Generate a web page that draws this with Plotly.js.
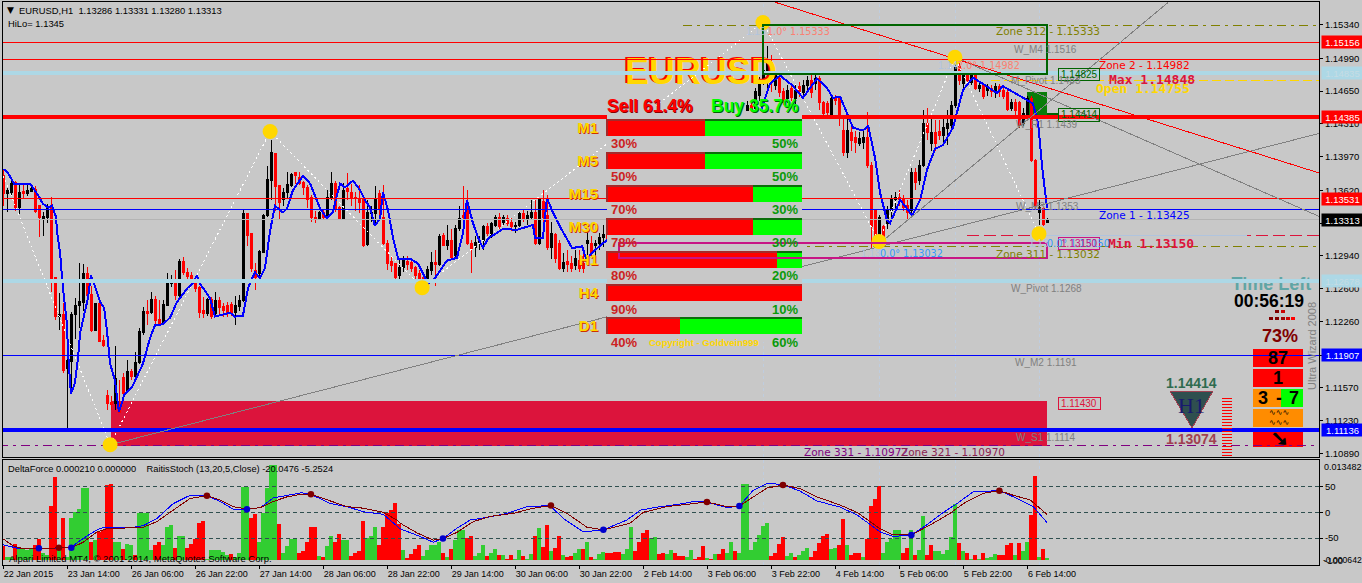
<!DOCTYPE html>
<html><head><meta charset="utf-8">
<script src="https://cdn.plot.ly/plotly-3.0.1.min.js"></script>
<style>html,body{margin:0;padding:0;background:#C8C8C8;overflow:hidden}#c{width:1362px;height:583px}
path.js-line,.boxlayer path,.barlayer path,.shapelayer path{shape-rendering:crispEdges}</style>
</head><body><div id="c"></div>
<script>
// prices are kept in pips above 1.1000
const barOpen=[377,359,360,370,344,361,359,361,363,346,333,334,346,272,231,233,177,184,233,242,246,276,254,217,245,206,149,142,141,141,168,154,174,169,183,215,236,235,249,228,224,243,265,270,253,288,277,274,269,261,237,234,249,234,248,241,243,244,235,241,248,338,317,279,276,298,336,372,400,367,352,360,367,380,375,370,365,355,334,333,339,336,355,369,344,333,364,360,355,353,352,306,338,338,359,334,307,288,286,274,282,288,287,282,276,272,269,279,287,285,315,305,310,294,322,336,346,307,303,307,310,324,315,326,334,329,333,329,324,325,338,333,334,339,307,350,336,303,316,307,281,288,286,284,289,286,307,307,305,307,313,316,310,326,314,310,318,322,346,339,333,326,318,339,336,343,335,344,337,346,339,346,338,347,345,335,344,338,333,333,346,336,346,335,336,336,439,450,447,460,474,484,495,471,478,464,457,468,457,470,463,471,476,473,478,453,452,440,458,457,424,401,422,417,411,412,417,388,341,313,324,328,341,352,355,354,346,341,380,372,388,431,411,422,423,419,426,429,450,490,473,481,474,481,468,471,466,468,463,470,466,463,447,453,453,431,438,457,393,339,343,328.6];
const barHigh=[383,364,372,372,367,369,370,369,366,346,339,348,355,272,255,245,197,236,250,287,286,282,263,245,250,212,155,149,200,165,173,186,177,194,219,241,248,257,252,248,248,276,274,279,291,293,281,277,273,263,251,250,251,257,251,245,246,246,252,253,343,338,318,287,300,337,387,414,401,367,364,381,380,381,381,372,367,357,341,341,343,362,381,372,346,370,380,369,360,367,354,352,346,366,362,367,310,294,287,291,294,294,291,284,279,274,284,298,300,317,318,326,322,326,346,366,362,310,315,315,326,328,329,336,338,336,336,333,329,340,343,341,352,352,354,362,357,329,318,310,297,300,294,300,300,302,320,315,310,318,326,320,329,329,318,322,331,352,348,341,346,329,343,346,348,349,348,350,347,349,348,350,347,350,348,346,348,345,343,348,348,349,349,352,352,442,455,455,468,480,536,512,502,484,482,468,471,472,472,474,476,481,482,482,481,455,455,460,461,459,437,437,429,424,422,424,443,391,343,336,326,346,357,360,362,357,352,385,385,393,445,447,440,435,435,440,445,455,500,497,486,484,486,483,474,473,472,471,473,472,469,466,457,457,455,447,460,460,395,352,345,333.1];
const barLow=[346,339,357,341,337,354,356,360,338,314,315,328,256,227,217,172,115,154,208,219,237,243,215,217,205,199,134,134,134,131,150,152,165,167,182,212,222,234,222,222,222,242,262,248,251,274,269,265,257,230,230,232,229,231,232,231,231,232,222,237,246,304,277,259,271,297,334,352,341,331,346,354,365,369,367,357,344,329,328,331,332,334,352,339,331,331,352,346,341,338,303,304,329,326,336,305,279,277,269,269,277,279,277,269,263,261,263,274,263,284,304,300,291,292,320,326,305,276,293,300,300,315,313,324,322,326,325,320,318,324,329,326,331,305,305,312,300,291,287,279,277,277,277,279,277,276,287,294,287,300,303,305,300,308,305,307,314,318,333,325,318,300,315,327,333,331,332,333,333,335,335,334,334,333,331,331,332,330,329,330,330,312,332,333,333,333,429,435,445,455,471,466,464,466,459,451,453,455,452,459,459,466,458,466,445,439,439,438,451,429,398,396,403,401,408,405,385,302,305,310,310,322,329,343,346,341,331,338,362,367,386,414,403,403,414,412,409,427,447,471,466,471,471,466,464,457,460,459,458,459,457,444,444,440,427,429,437,391,343,326,325,328];
const barClose=[359,362,369,344,360,359,362,364,340,334,335,344,271,231,233,175,185,233,243,247,276,253,217,245,205,201,141,140,167,132,151,174,169,183,216,236,234,249,227,224,244,265,269,253,288,277,273,270,260,235,234,249,231,248,240,237,235,235,242,248,338,315,281,272,299,336,373,401,366,349,360,368,378,377,369,365,352,334,333,339,334,355,369,343,333,362,361,355,353,349,305,339,339,352,343,307,286,284,272,282,289,285,281,274,270,269,280,287,285,314,305,310,292,322,333,334,307,302,308,310,324,317,328,334,324,334,328,324,326,338,333,336,339,307,352,334,303,317,291,281,287,285,281,291,281,281,310,297,307,313,316,310,326,312,310,320,326,346,336,329,322,318,336,331,343,335,346,337,343,339,345,338,344,337,335,343,336,333,341,341,333,346,335,346,348,440,450,443,464,476,486,497,478,481,463,453,466,458,466,464,471,476,463,478,453,442,443,457,455,438,401,424,414,412,416,417,388,324,313,334,313,341,352,355,352,344,339,380,370,388,431,422,422,411,419,427,431,450,490,476,483,476,483,468,471,459,469,464,470,464,459,446,453,445,429,442,457,393,346,344,327,331.3];
const maBars=[0,1,2,2.7,6.7,7.4,8.7,9.9,11.2,12.2,13.2,13.4,14.2,14.9,15.9,16.2,16.9,17.9,18.7,19.2,20.4,21.2,21.9,22.9,24.2,25.2,25.9,26.7,27.9,28.9,29.7,30.2,32.2,34.9,36.7,37.9,39.9,41.7,43.4,45.9,47.4,48.4,49.2,51.7,52.9,56.7,57.9,59.9,61.2,62.9,64.2,65.4,66.7,67.9,69.9,70.9,72.4,74.9,76.7,79.2,80.9,82.4,83.4,84.2,85.4,87.4,89.2,90.4,91.7,92.9,94.2,94.9,96.2,97.4,98.7,101.7,103.7,105.4,106.2,107.9,110.9,113.4,114.9,115.9,117.4,118.7,119.9,121.2,123.4,124.9,128.4,132.4,132.9,134.9,135.9,137.4,139.2,140.9,142.2,144.7,145.7,147.4,149.9,152.2,153.7,157.4,159.2,162.4,168.7,170.9,174.2,177.4,179.9,184.2,185.9,186.4,187.4,189.2,191.7,194.2,197.2,199.9,203.4,205.9,207.4,209.2,212.4,214.9,216.2,217.9,219.2,220.9,221.7,224.2,225.9,227.2,229.2,230.9,232.9,234.9,237.4,239.9,242.4,244.2,248.4,249.9,254.2,257.4,258.7,259.7,260.9];
const maVals=[384,381,374,369,369,365,357,348,344,346,334,320,297,261,224,193,151,162,189,214,237,251,274,263,246,240,217,182,165,132,142,150,158,182,209,222,223,230,246,260,266,274,265,250,231,235,231,232,261,277,271,281,320,346,339,343,362,377,369,343,333,339,357,369,365,372,362,352,344,325,333,360,341,313,291,291,286,272,265,271,289,292,317,352,328,313,302,312,318,322,321,326,313,313,354,339,324,312,302,304,291,298,307,314,310,338,334,313,338,344,344,334,344,336,348,383,414,442,473,481,471,458,478,468,458,459,427,424,429,396,359,331,328,352,343,336,352,383,405,409,427,466,479,474,463,470,460,452,431,386,344];
const zigBars=[0,26.7,66.7,104.7,189.9,218.9,237.9,258.9];
const zigVals=[377,98,423,261,536,309,500,317];
const deltaForce=[-19,4,4,-22,15,15,13,17,-21,-28,10,7,-73,-111,16,-56,4,56,64,69,97,97,-24,27,-38,-40,-101,-102,25,25,-15,22,21,-7,63,63,63,13,-21,-25,20,44,47,-16,33,33,-16,-22,-28,-50,-52,2,14,14,14,11,7,-8,4,10,98,98,-56,-62,25,63,97,127,127,-49,10,19,28,28,-10,-12,-24,-44,-45,5,-4,19,33,-25,-35,27,27,-5,-10,-12,-53,30,32,45,-20,-45,-63,-67,-77,-49,13,-3,-8,-15,-21,5,13,20,20,25,-10,4,-15,27,40,40,-30,-33,5,10,21,-5,10,15,-7,7,-2,-7,1,13,-5,2,8,-32,43,-18,-47,12,-16,-33,7,-4,-6,9,15,-15,25,-4,1,8,11,-9,-10,-11,-11,8,15,44,-12,-24,-37,-40,30,31,-8,-10,8,13,-10,-5,-5,4,13,-2,-4,-19,3,-2,8,-8,-15,10,25,-12,10,102,102,13,24,34,46,50,-6,-9,-22,-31,5,10,-4,7,12,17,-4,-12,-23,-33,-35,15,16,-20,-55,20,-7,-9,-9,4,-28,-73,-82,-100,10,25,29,40,40,-10,-17,40,-7,14,59,-7,-21,12,12,8,13,31,75,-23,12,-9,1,-7,1,-9,3,4,8,-7,-7,-21,-23,7,-23,12,25,-61,-113,4,-15,3];
const stochMainBars=[0,1.7,4.2,8.8,13.8,17,19.2,21.7,24.2,25.9,32.5,35,38.4,42.5,46.7,50.9,54.2,57.5,60.9,64.2,67.5,70.9,74.6,76.9,81.7,85.9,90,95,98.4,99.2,104.2,107.5,109.9,113.4,116.7,120.9,125.9,130.9,136.7,140,145,150,155.9,159.2,163.4,168.4,173.4,175.9,180.9,184,187.5,190.9,194.9,199.2,203.4,209.2,213.4,219.2,222.5,227,230.9,235,238.4,242.5,249,253.4,257.5,260.9];
const stochMain=[-63,-66,-71,-71,-69,-68,-55,-42,-31,-29,-29,-26,-12,17,33,32,21,6,6,9,28,33,38,35,17,11,1,-4,-28,-32,-47,-58,-51,-31,-15,-10,-2,11,13,-12,-38,-34,-15,4,10,15,22,20,9,12,43,56,54,41,22,10,-5,-38,-47,-44,-24,0,17,40,42,27,11,-20];
const stochSigBars=[0,2.5,5,8.8,13.8,17,20,23.4,25.9,32.5,35,38.4,42.5,46.7,50.9,54.2,57.5,60.9,64.2,67.5,70.9,74.6,76.9,81.7,85.9,90,95,98.4,99.2,103.4,107.5,109.9,113.4,117.5,121.7,127.5,132.5,136.9,140.9,145.9,150,156.7,160,165.9,170.9,175.9,180.9,184,187.5,190.9,194.9,199.2,203.4,209.2,213.4,219.2,222.5,227,232.5,236.7,240,245,249,252.5,256.7,260.9];
const stochSig=[-52,-65,-71,-71,-69,-69,-58,-38,-32,-29,-29,-18,4,27,32,24,11,6,9,21,30,35,35,22,11,8,0,-15,-21,-40,-54,-51,-39,-18,-8,-2,8,13,-2,-29,-34,-21,0,11,16,20,11,12,30,47,53,46,30,14,0,-32,-44,-44,-21,-2,17,37,42,33,24,-4];
const blueDotBars=[8.9,17,60.9,109.9,150,184,227];
const blueDotVals=[-70,-69,6,-51,-34,12,-44];
const redDotBars=[13.9,50.9,76.9,136.9,175.9,194.9,249];
const redDotVals=[-69,32,35,13,20,53,42];
const tickBars=[0,16,32,48,64,80,96,112,128,144,160,176,192,208,224,240,256];
const tickLabels=['22 Jan 2015','23 Jan 14:00','26 Jan 06:00','26 Jan 22:00','27 Jan 14:00','28 Jan 06:00','28 Jan 22:00','29 Jan 14:00','30 Jan 06:00','30 Jan 22:00','2 Feb 14:00','3 Feb 06:00','3 Feb 22:00','4 Feb 14:00','5 Feb 06:00','5 Feb 22:00','6 Feb 14:00'];
const priceTicks=[1.1534,1.1499,1.1465,1.1431,1.1397,1.1362,1.1328,1.1294,1.126,1.1226,1.1191,1.1157,1.1123,1.1089];
const separatorBars=[190,219,238,259];
const timeframes=['M1','M5','M15','M30','H1','H4','D1'];
const sellShare=[50,50,75,75,87,100,37.5];
const buyShare=[50,50,25,25,13,0,62.5];
const sellLabels=['30%','50%','70%','78%','80%','90%','40%'];
const buyLabels=['50%','50%','30%','30%','20%','10%','60%'];
// price levels
const levelPrices=[1.1097,1.13032,1.15333,1.1315,1.1315,1.14755,1.15156,1.14982,1.13531,1.13425,1.13313,1.11907,1.14835,1.14385,1.12678,1.11136];
const levelStarts=[0,170,170,241,259,247,0,0,0,0,0,0,0,0,0,0];
const levelEnds=[329,329,329,329,311,329,329,329,329,329,329,329,329,329,329,329];
const levelColors=['#800080','#808000','#808000','#DC143C','#B0C4DE','#FFD700','#FF0000','#FF0000','#FF0000','#0000FF','#B4B4B4','#0000FF','#ADD8E6','#FF0000','#ADD8E6','#0000FF'];
const levelWidths=[1,1,1,1,1,1,1,1,1,1,1,1,4,4,4,4];
const levelDashes=['9px,5px,3px,5px','9px,5px,3px,5px','9px,5px,3px,5px','12px,5px','solid','9px,4px','solid','solid','solid','solid','solid','solid','solid','solid','solid','solid'];
const boxPrices=[1.15156,1.14835,1.14385,1.13531,1.13313,1.12678,1.11907,1.11136];
const boxFills=['#FF0000','#ADD8E6','#FF0000','#FF0000','#000000','#ADD8E6','#0000FF','#0000FF'];
const boxInks=['#FFFFFF','#C6DCE4','#FFFFFF','#FFFFFF','#FFFFFF','#C6DCE4','#FFFFFF','#FFFFFF'];

const price=p=>1.1+p/10000;
const F='Liberation Sans';
const pxX=x=>(x-3)/1316, pxY=y=>(565-y)/564;
const barEnd=328.9;

const traces=[];
traces.push({type:'scatter',mode:'text',x:[174.4],y:[price(482)],text:['EURUSD'],textposition:'middle center',
  textfont:{family:F,size:36,weight:700,color:'#FFD700',shadow:'-2px -1px 0 #FF0000'},xaxis:'x',yaxis:'y',hoverinfo:'skip'});
traces.push({type:'scatter',mode:'text',x:[317.0],y:[price(263)],text:['Time Left'],textposition:'middle center',
  textfont:{family:F,size:18,weight:700,color:'#5FA5A5'},xaxis:'x',yaxis:'y',hoverinfo:'skip'});
traces.push({type:'candlestick',x:barOpen.map((_,i)=>i),open:barOpen.map(price),high:barHigh.map(price),low:barLow.map(price),close:barClose.map(price),
  xaxis:'x',yaxis:'y',whiskerwidth:0,hoverinfo:'skip',
  increasing:{line:{color:'#000000',width:1},fillcolor:'#000000'},
  decreasing:{line:{color:'#FF0000',width:1},fillcolor:'#FF0000'}});
traces.push({type:'scatter',mode:'lines',x:zigBars,y:zigVals.map(price),line:{color:'#FFFFFF',width:1,dash:'2px,3px'},xaxis:'x',yaxis:'y',hoverinfo:'skip'});
traces.push({type:'scatter',mode:'lines',x:maBars,y:maVals.map(price),line:{color:'#0000FF',width:2},xaxis:'x',yaxis:'y',hoverinfo:'skip'});
levelPrices.forEach((p,i)=>traces.push({type:'scatter',mode:'lines',x:[levelStarts[i]===0?-1:levelStarts[i],levelEnds[i]===329?barEnd:levelEnds[i]],y:[p,p],
  line:{color:levelColors[i],width:levelWidths[i],dash:levelDashes[i]},xaxis:'x',yaxis:'y',hoverinfo:'skip'}));
const trendBars=[[26.7,328.9],[220,291.2],[237.9,328.9],[193,328.9]];
const trendVals=[[98,421],[310,557],[500,335],[557,380]];
const trendColors=['#808080','#808080','#808080','#FF0000'];
trendBars.forEach((b,i)=>traces.push({type:'scatter',mode:'lines',x:b,y:trendVals[i].map(price),line:{color:trendColors[i],width:1},xaxis:'x',yaxis:'y',hoverinfo:'skip'}));
traces.push({type:'scatter',mode:'markers',x:zigBars.slice(1),y:zigVals.slice(1).map(price),marker:{size:15,color:'#FFD700'},xaxis:'x',yaxis:'y',hoverinfo:'skip'});
traces.push({type:'bar',x:deltaForce.map((_,i)=>i),y:deltaForce.map(v=>Math.abs(v)/10000),width:1,
  marker:{color:deltaForce.map(v=>v>0?'#32CD32':'#FF0000'),line:{width:0}},xaxis:'x',yaxis:'y2',hoverinfo:'skip'});
[50,0,-50].forEach(v=>traces.push({type:'scatter',mode:'lines',x:[-1,barEnd],y:[v,v],line:{color:'#2F4F4F',width:1,dash:'4px,3px'},xaxis:'x',yaxis:'y3',hoverinfo:'skip'}));
traces.push({type:'scatter',mode:'lines',x:stochMainBars,y:stochMain,line:{color:'#0000FF',width:1},xaxis:'x',yaxis:'y3',hoverinfo:'skip'});
traces.push({type:'scatter',mode:'lines',x:stochSigBars,y:stochSig,line:{color:'#800000',width:1},xaxis:'x',yaxis:'y3',hoverinfo:'skip'});
traces.push({type:'scatter',mode:'markers',x:blueDotBars,y:blueDotVals,marker:{size:6.5,color:'#0000CD'},xaxis:'x',yaxis:'y3',hoverinfo:'skip'});
traces.push({type:'scatter',mode:'markers',x:redDotBars,y:redDotVals,marker:{size:6.5,color:'#800000'},xaxis:'x',yaxis:'y3',hoverinfo:'skip'});
traces.push({type:'bar',orientation:'h',y:timeframes,x:sellShare,width:0.515,marker:{color:'#FF0000',line:{width:0}},xaxis:'x2',yaxis:'y4',hoverinfo:'skip'});
traces.push({type:'bar',orientation:'h',y:timeframes,x:buyShare,base:sellShare,width:0.515,marker:{color:'#00FF00',line:{width:0}},xaxis:'x2',yaxis:'y4',hoverinfo:'skip'});

const rect=(x0,y0,x1,y1,fill,line,w,layer)=>({type:'rect',xref:'paper',yref:'paper',x0:pxX(x0),x1:pxX(x1),y0:pxY(y0),y1:pxY(y1),
  fillcolor:fill||'rgba(0,0,0,0)',line:{color:line||'rgba(0,0,0,0)',width:w||0},layer:layer||'below'});
const shapes=[];
shapes.push({type:'rect',xref:'x',yref:'y',x0:27,x1:261,y0:1.10970,y1:1.11430,fillcolor:'#DC143C',line:{width:0},layer:'below'});
shapes.push({type:'rect',xref:'x',yref:'y',x0:256,x1:261,y0:1.1439,y1:1.1464,fillcolor:'#0A7D0A',line:{width:0},layer:'below'});
separatorBars.forEach(b=>{shapes.push({type:'line',xref:'x',yref:'paper',x0:b,x1:b,y0:0,y1:1,line:{color:'rgba(190,205,225,0.9)',width:1,dash:'3px,3px'},layer:'below'});});
shapes.push({type:'rect',xref:'x',yref:'y',x0:190,x1:261,y0:1.14825,y1:1.15333,fillcolor:'rgba(0,0,0,0)',line:{color:'#006400',width:2},layer:'above'});
shapes.push({type:'rect',xref:'x',yref:'y',x0:153.8,x1:261,y0:1.12918,y1:1.13073,fillcolor:'rgba(0,0,0,0)',line:{color:'#C71585',width:2},layer:'above'});
shapes.push({type:'line',xref:'x',yref:'y',x0:261,x1:263.8,y0:1.14414,y1:1.14414,line:{color:'#006400',width:2},layer:'above'});
shapes.push(rect(1058,68,1099,80,null,'#006400',1,'above'));
shapes.push(rect(1058,108,1099,121,null,'#006400',1,'above'));
shapes.push(rect(1058,237,1099,249,null,'#C71585',1,'above'));
shapes.push(rect(1058,397,1100,409,null,'#DC143C',1,'above'));
shapes.push(rect(1253,349,1303,367,'#FF0000'));
shapes.push(rect(1253,369,1303,387,'#FF0000'));
shapes.push(rect(1253,389,1281,407,'#FF8C00'));
shapes.push(rect(1281,389,1303,407,'#00FF00'));
shapes.push(rect(1253,409,1303,427,'#FF8C00'));
shapes.push(rect(1253,429,1303,447,'#FF0000'));
[[1275,310,'#800000'],[1281,310,'#CC0000'],[1269,317,'#800000'],[1275,317,'#800000'],[1281,317,'#A00000'],[1286,317,'#CC0000'],[1291,317,'#FF0000']].forEach(d=>shapes.push(rect(d[0],d[1],d[0]+4,d[1]+3,d[2])));
shapes.push({type:'path',xref:'paper',yref:'paper',path:`M${pxX(1170)},${pxY(391)} L${pxX(1213)},${pxY(391)} L${pxX(1192)},${pxY(428)} Z`,fillcolor:'#2F4F4F',line:{color:'#A04050',width:1},layer:'above'});
let stripes='';for(let y=398;y<456;y+=3){stripes+=`M${pxX(1222)},${pxY(y)} L${pxX(1232)},${pxY(y)} `;}
shapes.push({type:'path',xref:'paper',yref:'paper',path:stripes,line:{color:'#FF0000',width:1},layer:'above'});
// dark top and left edge of the timeframe bars
timeframes.forEach((_,i)=>{const t=119+33*i, s=607+195*sellShare[i]/100;
  shapes.push(rect(607,t,s,t+1.5,'#A52A2A',null,0,'above'));
  shapes.push(rect(606,t,608,t+17,'#A52A2A',null,0,'above'));
  if(buyShare[i]>0) shapes.push(rect(s,t,802,t+1.5,'#0A6E0A',null,0,'above'));
});
shapes.push(rect(2.5,1,1319.5,457,null,'#000000',1,'above'));
shapes.push(rect(2.5,459.5,1319.5,565,null,'#000000',1,'above'));

const ann=[];
const T=(x,y,text,size,color,o)=>ann.push(Object.assign({xref:'paper',yref:'paper',x:pxX(x),y:pxY(y),text,showarrow:false,xanchor:'left',yanchor:'middle',borderpad:0,
  font:Object.assign({family:F,size,color},(o&&o.font)||{})},o&&o.a||{}));
const bold={font:{weight:700}};
const mono={font:{family:'DejaVu Sans Mono',weight:700}};
const dj={font:{family:'DejaVu Sans'}};
T(6,10.5,'▼',9,'#000000',dj);
T(18,10.5,'EURUSD,H1&#160; 1.13286 1.13331 1.13280 1.13313',9.4,'#000000');
T(7,23.5,'HiLo= 1.1345',9.4,'#000000');
T(7,468.5,'DeltaForce 0.000210 0.000000&#160;&#160;&#160; RaitisStoch (13,20,5,Close) -20.0476 -5.2524',9.3,'#000000');
T(8,558,'Alpari Limited MT4, © 2001-2014, MetaQuotes Software Corp.',9.5,'#000000');
T(606,106,'Sell 61.4%',17.5,'#FF0000',{font:{weight:700,shadow:'1px 1px 0 #8B0000'}});
T(710,106,'Buy 35.7%',17.5,'#00FF00',{font:{weight:700,shadow:'1px 1px 0 #006400'}});
sellLabels.forEach((t,i)=>T(610,143+33.2*i,t,13,'#CC2222',bold));
buyLabels.forEach((t,i)=>T(771,143+33.2*i,t,13,'#0A9A0A',bold));
T(648,342,'Copyright - Goldvein999',9.5,'#FFD700',bold);
boxPrices.forEach((p,i)=>ann.push({xref:'paper',yref:'y',x:pxX(1320.5),y:p,text:p.toFixed(5),showarrow:false,xanchor:'left',yanchor:'middle',width:41,height:12,align:'center',bgcolor:boxFills[i],borderpad:0,font:{family:F,size:9.5,color:boxInks[i]}}));
T(995,31,'Zone 312 - 1.15333',10.5,'#808000',dj);
T(1098,65,'Zone 2 - 1.14982',10.5,'#FF0000',dj);
T(1098,215,'Zone 1 - 1.13425',10.5,'#0000FF',dj);
T(995,254,'Zone 311 - 1.13032',10.5,'#808000',dj);
T(803,452,'Zone 331 - 1.10972',10.5,'#800080',dj);
T(900,452,'Zone 321 - 1.10970',10.5,'#8B2252',dj);
T(1108,79,'Max 1.14848',13,'#DC143C',mono);
T(1095,88.5,'Open 1.14755',13,'#FFD700',mono);
T(1107,243,'Min 1.13150',13,'#DC143C',mono);
T(1013,49,'W_M4 1.1516',10,'#808080');
T(1010,81,'M_Pivot 1.1483',10,'#808080');
T(1015,124,'W_R1 1.1439',10,'#808080');
T(1015,206,'W_M3 1.1353',10,'#808080');
T(1010,288,'W_Pivot 1.1268',10,'#808080');
T(1014,362,'W_M2 1.1191',10,'#808080');
T(1015,437,'W_S1 1.1114',10,'#808080');
T(745,31,'1.15',10,'#B0C4DE');
T(766,31,'1.0° 1.15333',9.6,'#FA8072',dj);
T(937,65,'1.14',10,'#B0C4DE');
T(956,65,'2.0° 1.14982',9.6,'#FA8072',dj);
T(860,254,'1.13',10,'#B0C4DE');
T(879,254,'0.0° 1.13032',9.6,'#3399FF',dj);
T(1028,243,'1.13',10,'#B0C4DE');
T(1046,243,'0.0° 1.13150',9.6,'#3399FF',dj);
T(1060,74,'1.14825',10,'#006400');
T(1060,114.5,'1.14414',10,'#006400');
T(1060,243,'1.13150',10,'#C71585');
T(1060,403,'1.11430',10,'#DC143C');
T(1233,301,'00:56:19',17.5,'#000000',bold);
T(1261,336,'73%',18,'#800000',bold);
T(1278,358,'87',18,'#000000',{font:{weight:700},a:{xanchor:'center'}});
T(1278,378,'1',18,'#000000',{font:{weight:700},a:{xanchor:'center'}});
T(1263,398,'3',18,'#000000',{font:{weight:700},a:{xanchor:'center'}});
T(1279,398,'-',18,'#000000',{font:{weight:700},a:{xanchor:'center'}});
T(1294,398,'7',18,'#000000',{font:{weight:700},a:{xanchor:'center'}});
T(1279,418,'∿∿∿<br>∿∿∿',8,'#000000',{font:{family:'DejaVu Sans'},a:{xanchor:'center'}});
T(1279,438,'➘',22,'#000000',{font:{family:'DejaVu Sans',weight:700,shadow:'1px 0 0 #000'},a:{xanchor:'center'}});
T(1312,346,'Ultra Wizard 2008',11,'#808080',{a:{textangle:-90,xanchor:'center'}});
T(1191,383,'1.14414',14,'#2E6B4F',{font:{weight:700},a:{xanchor:'center'}});
T(1191,439,'1.13074',14,'#A04050',{font:{weight:700},a:{xanchor:'center'}});
T(1191,405,'H1',22,'#191970',{font:{family:'Liberation Serif'},a:{xanchor:'center'}});
T(1323,467,'0.013482',9,'#000000');
T(1323,560,'-100',9.5,'#000000');
T(1322,560,'-0.000642',8.6,'#000000');

const layout={
  width:1362,height:583,paper_bgcolor:'#C8C8C8',plot_bgcolor:'#C8C8C8',showlegend:false,
  margin:{l:3,r:43,t:1,b:18,pad:0},barmode:'overlay',boxgap:0.35,
  font:{family:F,size:9.5,color:'#000000'},
  xaxis:{domain:[0,1],anchor:'y2',range:[-0.075,barEnd],tickmode:'array',tickvals:tickBars,ticktext:tickLabels,ticks:'outside',ticklen:3,tickcolor:'#000',tickwidth:1,
    ticklabelposition:'outside right',tickfont:{family:F,size:9,color:'#000'},showgrid:false,zeroline:false,rangeslider:{visible:false},fixedrange:true,tickangle:0},
  yaxis:{domain:[(565-457)/564,1],anchor:'x',side:'right',range:[1.1534-(457-24.5)/9640,1.1534+(24.5-1)/9640],tickmode:'array',tickvals:priceTicks,tickformat:'.5f',ticks:'outside',ticklen:3,tickcolor:'#000',
    tickfont:{family:F,size:9.5,color:'#000'},showgrid:false,zeroline:false,fixedrange:true},
  yaxis2:{domain:[0,(565-459.5)/564],anchor:'x',range:[-0.000642,0.013482],visible:false,fixedrange:true},
  yaxis3:{domain:[0,(565-459.5)/564],anchor:'x',overlaying:'y2',side:'right',range:[-102.3,102.5],tickmode:'array',tickvals:[50,0,-50],ticktext:['50','0','-50'],ticks:'outside',ticklen:3,tickcolor:'#000',
    tickfont:{family:F,size:9.5,color:'#000'},showgrid:false,zeroline:false,fixedrange:true},
  xaxis2:{domain:[pxX(607),pxX(802)],anchor:'y4',range:[0,100],visible:false,fixedrange:true},
  yaxis4:{domain:[pxY(342),pxY(111)],anchor:'x2',type:'category',categoryorder:'array',categoryarray:timeframes,autorange:'reversed',side:'left',
    ticks:'',ticklabelstandoff:8,showline:false,showgrid:false,zeroline:false,fixedrange:true,
    tickfont:{family:F,size:15,weight:700,color:'#FFD700',shadow:'1px 1px 0 #CC3300'}},
  shapes,annotations:ann
};
Plotly.newPlot('c',traces,layout,{staticPlot:true,displayModeBar:false});
</script></body></html>
